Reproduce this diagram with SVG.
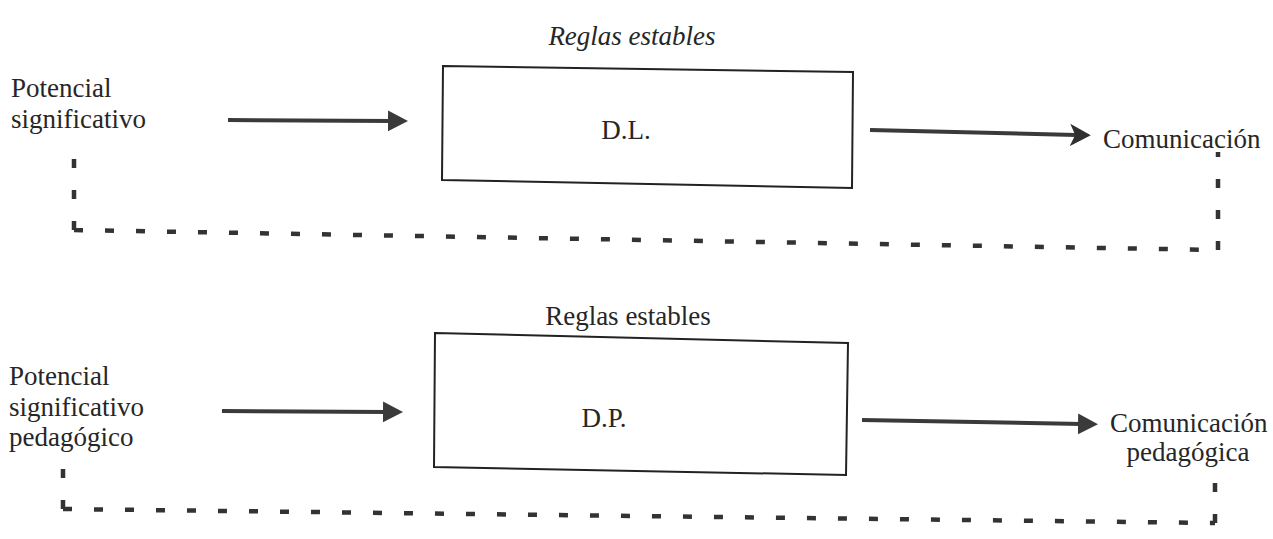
<svg xmlns="http://www.w3.org/2000/svg" width="1273" height="539" viewBox="0 0 1273 539">
<defs>
<style>
.t{font-family:"Liberation Serif","Times New Roman",serif;font-size:27px;fill:#262626}
.it{font-style:italic}
.box{fill:none;stroke:#222;stroke-width:2}
.arr{stroke:#3a3a3a;stroke-width:4;fill:none}
.dash{stroke:#333;stroke-width:4.5;fill:none;stroke-dasharray:9 22}
</style>
<marker id="head" markerWidth="6" markerHeight="6" refX="1" refY="3" orient="auto" markerUnits="strokeWidth" viewBox="0 0 6 6">
<path d="M0,0.4 L5,3 L0,5.6 Z" fill="#3a3a3a"/>
</marker>
<marker id="chev" markerWidth="6" markerHeight="6" refX="1.5" refY="3" orient="auto" markerUnits="strokeWidth" viewBox="0 0 6 6">
<path d="M0,0.2 L5.2,3 L0,5.8 L1.3,3 Z" fill="#2f2f2f"/>
</marker>
</defs>
<rect width="1273" height="539" fill="#ffffff"/>

<g id="top-rules"><text class="t it" x="632" y="45" text-anchor="middle">Reglas estables</text></g>
<g id="top-source"><text class="t" x="11" y="97">Potencial</text><text class="t" x="11" y="128">significativo</text></g>
<g id="top-dl"><path class="box" d="M443,66 L853,72 L852,188 L442,180 Z"/><text class="t" x="626" y="139" text-anchor="middle">D.L.</text></g>
<g id="top-out"><text class="t" x="1103" y="148">Comunicación</text></g>

<g id="bot-rules"><text class="t" x="628" y="325" text-anchor="middle">Reglas estables</text></g>
<g id="bot-source"><text class="t" x="9" y="385">Potencial</text><text class="t" x="9" y="416">significativo</text><text class="t" x="9" y="446">pedagógico</text></g>
<g id="bot-dp"><path class="box" d="M435,333 L848,343 L846,475 L434,467 Z"/><text class="t" x="604" y="427" text-anchor="middle">D.P.</text></g>
<g id="bot-out"><text class="t" x="1110" y="432">Comunicación</text><text class="t" x="1188" y="461" text-anchor="middle">pedagógica</text></g>

<g id="connectors">
<path class="arr" d="M228,120 L392,121" marker-end="url(#head)"/>
<path class="arr" d="M870,130 L1076,135" marker-end="url(#chev)"/>
<path class="dash" d="M74,230 L74,141 M74,230 L1218,250 M1218,250 L1218,152"/>
<path class="arr" d="M222,411 L387,412" marker-end="url(#head)"/>
<path class="arr" d="M862,420 L1082,424" marker-end="url(#head)"/>
<path class="dash" d="M63,509 L63,450 M63,509 L1215,523 M1215,523 L1215,462"/>
</g>
</svg>
